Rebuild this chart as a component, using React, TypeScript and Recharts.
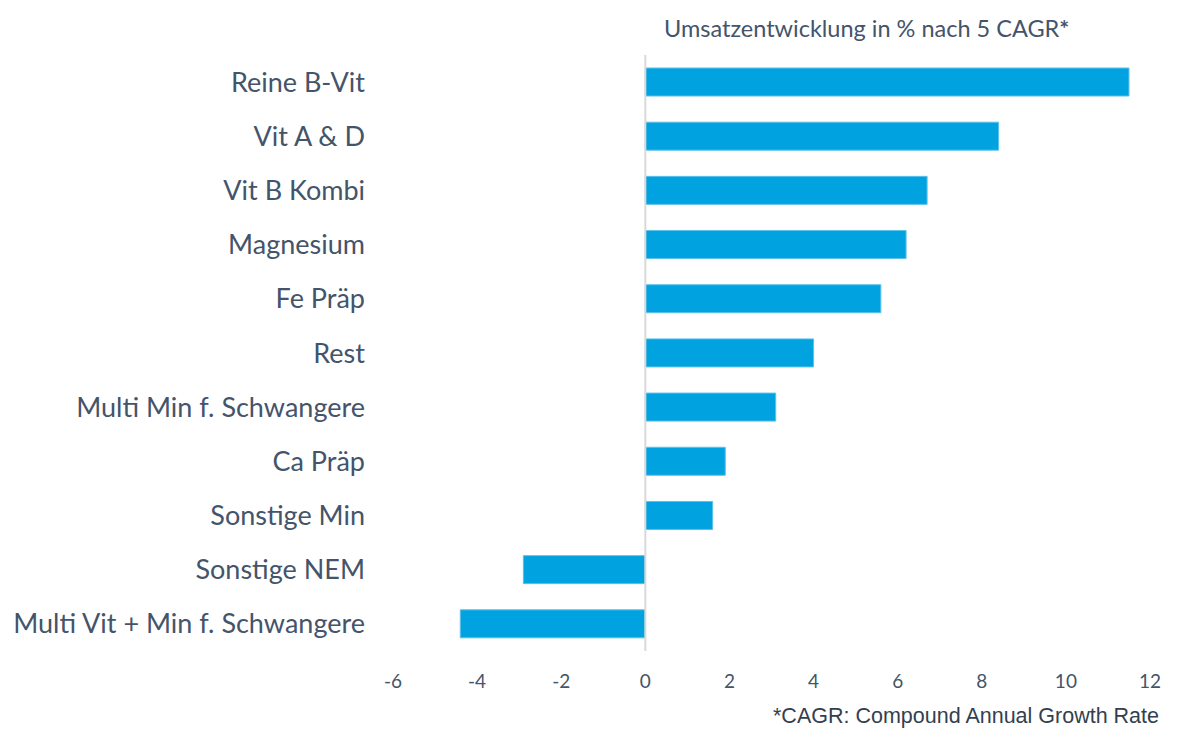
import React from "react";
import { BarChart, Bar, XAxis, YAxis, ReferenceLine } from "recharts";

const categories = [
  "Reine B-Vit",
  "Vit A & D",
  "Vit B Kombi",
  "Magnesium",
  "Fe Präp",
  "Rest",
  "Multi Min f. Schwangere",
  "Ca Präp",
  "Sonstige Min",
  "Sonstige NEM",
  "Multi Vit + Min f. Schwangere",
];
const values = [11.5, 8.4, 6.7, 6.2, 5.6, 4.0, 3.1, 1.9, 1.6, -2.9, -4.4];
const xTicks = [-6, -4, -2, 0, 2, 4, 6, 8, 10, 12];
const titleText = "Umsatzentwicklung in % nach 5 CAGR";
const footnote = "*CAGR: Compound Annual Growth Rate";

const data = categories.map((name, i) => ({ name, value: values[i] }));

const TEXT = "#44546a";

export default function App() {
  return (
    <div style={{ position: "absolute", left: 0, top: 0, width: 1186, height: 731, background: "#fff" }}>
      <div
        style={{
          position: "absolute",
          left: 664,
          top: 14,
          fontFamily: "Lato, 'Open Sans', sans-serif",
          fontSize: 23.5,
          color: TEXT,
          whiteSpace: "nowrap",
        }}
      >
        {titleText}
        <span style={{ fontWeight: 700 }}>*</span>
      </div>
      <BarChart
        width={1186}
        height={731}
        data={data}
        layout="vertical"
        margin={{ top: 55, right: 36, bottom: 30, left: 0 }}
        barCategoryGap={0}
      >
        <XAxis
          type="number"
          domain={[-6, 12]}
          ticks={xTicks}
          axisLine={false}
          tickLine={false}
          tickSize={0}
          tickMargin={24}
          height={50}
          tick={{ fill: TEXT, fontSize: 19, fontFamily: "Lato, sans-serif" }}
        />
        <YAxis
          type="category"
          dataKey="name"
          width={393}
          axisLine={false}
          tickLine={false}
          tickSize={0}
          tickMargin={28}
          interval={0}
          tick={{ fill: TEXT, fontSize: 27, fontFamily: "Lato, sans-serif" }}
        />
        <ReferenceLine x={0} stroke="#d9d9d9" strokeWidth={2} />
        <Bar
          dataKey="value"
          fill="#00a3e0"
          stroke="#5cc0ea"
          strokeWidth={1}
          barSize={28}
          isAnimationActive={false}
        />
      </BarChart>
      <div
        style={{
          position: "absolute",
          left: 773,
          top: 704,
          fontFamily: "'Liberation Sans', Arial, sans-serif",
          fontSize: 21.5,
          color: "#333f4f",
          whiteSpace: "nowrap",
        }}
      >
        {footnote}
      </div>
    </div>
  );
}
